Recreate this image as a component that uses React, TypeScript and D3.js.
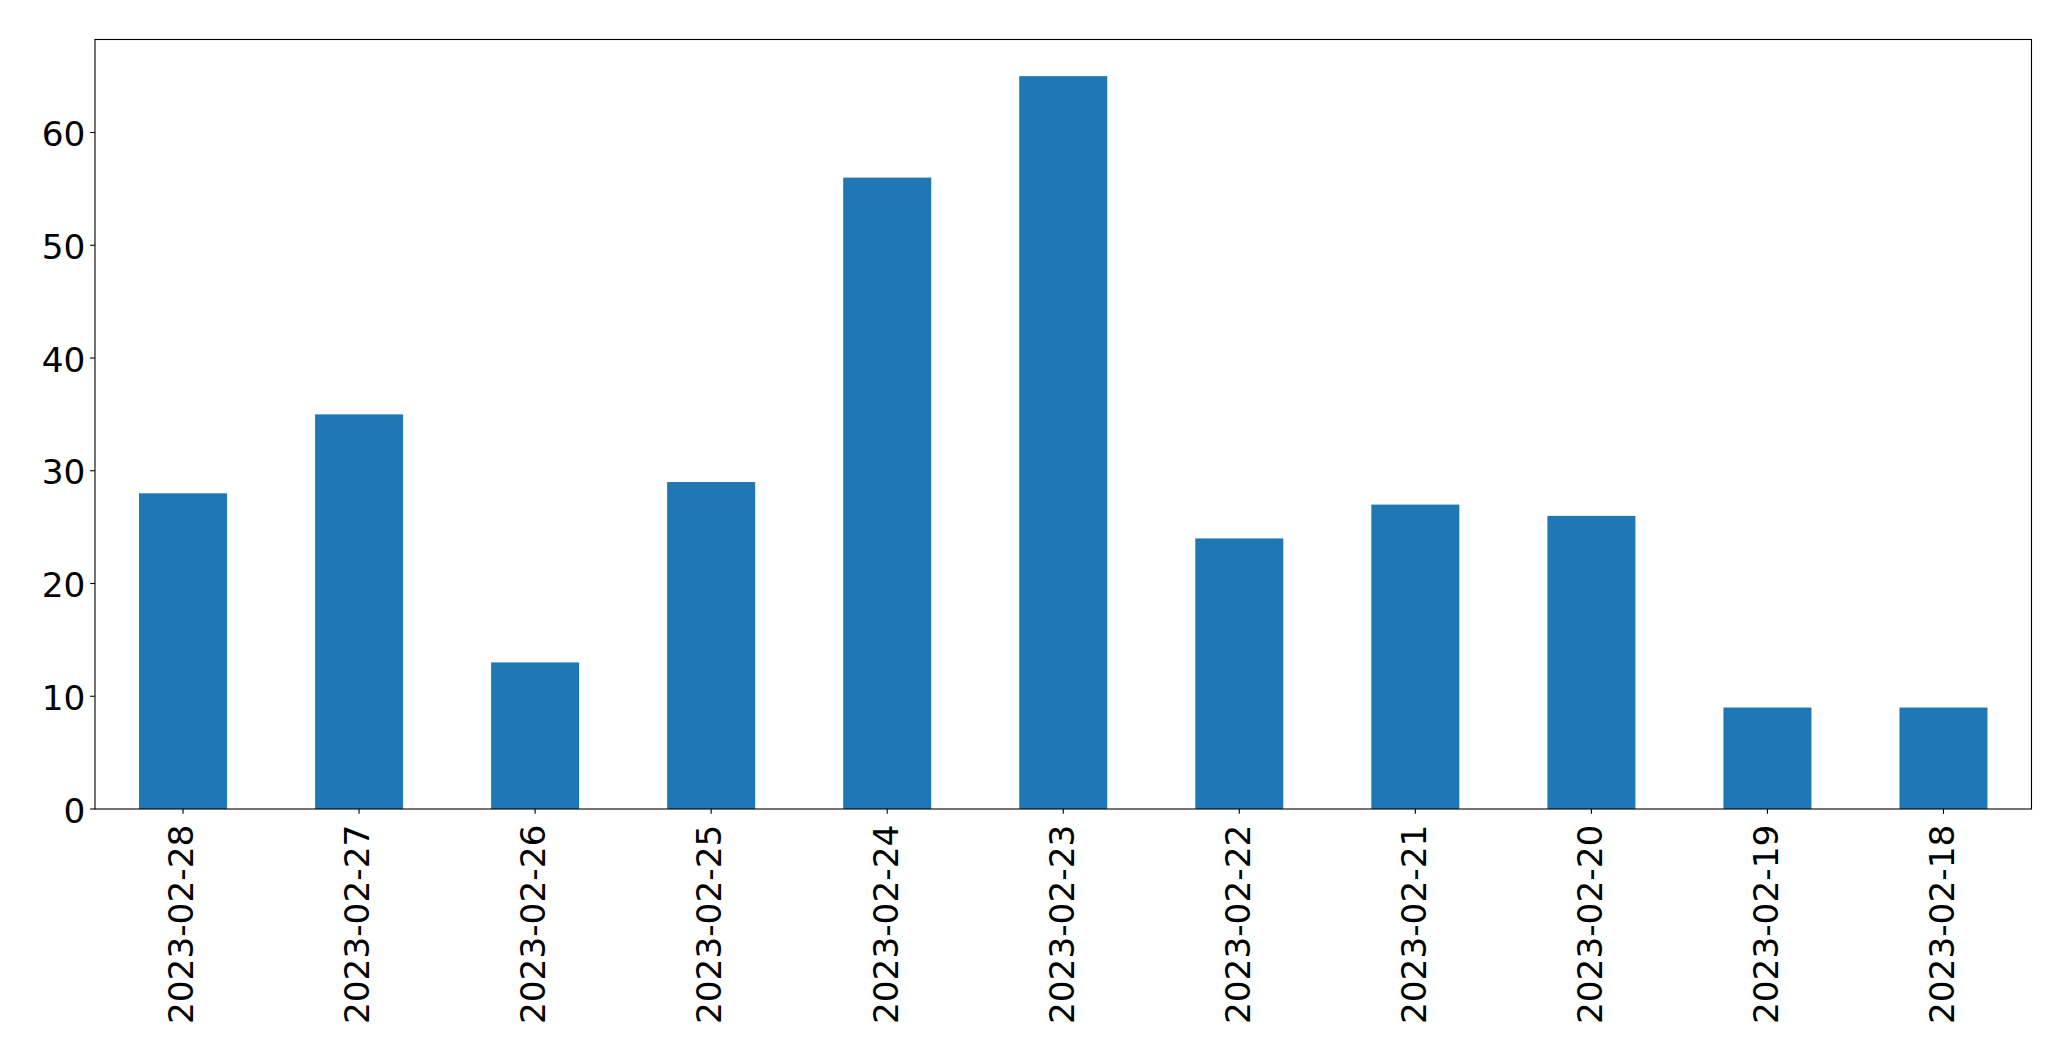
import React, { useEffect, useRef } from "react";
import * as d3 from "d3";

// dates as they appear on the x axis (left to right)
const dates = [
    "2023-02-28",
    "2023-02-27",
    "2023-02-26",
    "2023-02-25",
    "2023-02-24",
    "2023-02-23",
    "2023-02-22",
    "2023-02-21",
    "2023-02-20",
    "2023-02-19",
    "2023-02-18",
];
const counts = [28, 35, 13, 29, 56, 65, 24, 27, 26, 9, 9];
const yTicks = [0, 10, 20, 30, 40, 50, 60];

const width = 2071;
const height = 1061;

const App: React.FC = () => {
    const svgRef = useRef<SVGSVGElement>(null);

    useEffect(() => {
        if (!svgRef.current) return;
        const svg = d3.select(svgRef.current);
        svg.selectAll("*").remove();

        const margin = { top: 39.5, right: 39.5, bottom: 252, left: 95 };
        const innerWidth = width - margin.left - margin.right;
        const innerHeight = height - margin.top - margin.bottom;
        const fontSize = 34.3;
        const tickLen = 4.86;
        const pad = 4.86;

        const x = d3
            .scaleBand<string>()
            .domain(dates)
            .range([0, innerWidth])
            .paddingInner(0.5)
            .paddingOuter(0.25);

        const yMax = (d3.max(counts) || 0) * 1.05;
        const y = d3.scaleLinear().domain([0, yMax]).range([innerHeight, 0]);

        const g = svg
            .append("g")
            .attr("transform", `translate(${margin.left},${margin.top})`);

        // bars
        g.selectAll("rect.bar")
            .data(dates)
            .join("rect")
            .attr("class", "bar")
            .attr("x", (d) => x(d) || 0)
            .attr("y", (d, i) => y(counts[i]))
            .attr("width", x.bandwidth())
            .attr("height", (d, i) => innerHeight - y(counts[i]))
            .attr("fill", "#1f77b4");

        // frame
        g.append("rect")
            .attr("x", 0)
            .attr("y", 0)
            .attr("width", innerWidth)
            .attr("height", innerHeight)
            .attr("fill", "none")
            .attr("stroke", "black")
            .attr("stroke-width", 1.1);

        // y axis
        const yAxis = g.append("g");
        yAxis
            .selectAll("line")
            .data(yTicks)
            .join("line")
            .attr("x1", -tickLen)
            .attr("x2", 0)
            .attr("y1", (d) => y(d))
            .attr("y2", (d) => y(d))
            .attr("stroke", "black")
            .attr("stroke-width", 1.1);
        yAxis
            .selectAll("text")
            .data(yTicks)
            .join("text")
            .attr("x", -tickLen - pad)
            .attr("y", (d) => y(d))
            .attr("dy", "0.4em")
            .attr("text-anchor", "end")
            .attr("font-family", "DejaVu Sans")
            .attr("font-size", fontSize)
            .attr("fill", "black")
            .text((d) => String(d));

        // x axis
        const xAxis = g.append("g").attr("transform", `translate(0,${innerHeight})`);
        xAxis
            .selectAll("line")
            .data(dates)
            .join("line")
            .attr("x1", (d) => (x(d) || 0) + x.bandwidth() / 2)
            .attr("x2", (d) => (x(d) || 0) + x.bandwidth() / 2)
            .attr("y1", 0)
            .attr("y2", tickLen)
            .attr("stroke", "black")
            .attr("stroke-width", 1.1);
        xAxis
            .selectAll("text")
            .data(dates)
            .join("text")
            .attr(
                "transform",
                (d) =>
                    `translate(${(x(d) || 0) + x.bandwidth() / 2},${tickLen + pad + 6}) rotate(-90)`
            )
            .attr("dy", "0.3em")
            .attr("text-anchor", "end")
            .attr("font-family", "DejaVu Sans")
            .attr("font-size", fontSize)
            .attr("fill", "black")
            .text((d) => d);
    }, []);

    return (
        <div style={{ position: "absolute", left: 0, top: 0 }}>
            <svg ref={svgRef} width={width} height={height} style={{ display: "block" }}></svg>
        </div>
    );
};

export default App;
